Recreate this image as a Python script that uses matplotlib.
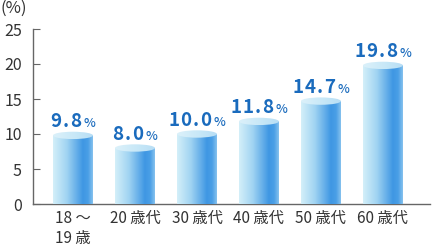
import numpy as np
import matplotlib.pyplot as plt
from matplotlib.patches import Ellipse, Rectangle
from matplotlib.colors import LinearSegmentedColormap
from matplotlib.offsetbox import TextArea, HPacker, AnnotationBbox

plt.rcParams['font.family'] = ['Noto Sans CJK JP', 'DejaVu Sans']

categories = ['18 ～\n19 歳', '20 歳代', '30 歳代', '40 歳代', '50 歳代', '60 歳代']
values = [9.8, 8.0, 10.0, 11.8, 14.7, 19.8]
labels = ['9.8', '8.0', '10.0', '11.8', '14.7', '19.8']

body_cmap = LinearSegmentedColormap.from_list(
    'body', [(0, '#d4eff9'), (0.35, '#a0d3f2'), (0.75, '#3f97e3'), (0.88, '#4a9fe6'), (1, '#86c2ee')])
top_cmap = LinearSegmentedColormap.from_list(
    'top', [(0, '#dcf1fa'), (0.6, '#c6e7f7'), (1, '#b8def5')])

fig = plt.figure(figsize=(4.34, 2.47), dpi=100)
ax = fig.add_axes([33 / 434, 1 - 204 / 247, 397 / 434, 175 / 247])

x = np.arange(len(categories))
width = 0.645
eh = 1.05  # hauteur ellipse en unites data

grad = np.linspace(0, 1, 256).reshape(1, -1)
bars = ax.bar(x, values, width=width, color='none', edgecolor='none', zorder=2)
for b, v in zip(bars, values):
    x0 = b.get_x()
    # cuerpo: rectangulo + elipse inferior
    im = ax.imshow(grad, cmap=body_cmap, aspect='auto', extent=(x0, x0 + width, -eh / 2, v),
                   zorder=2, interpolation='bilinear')
    im.set_clip_path(Rectangle((x0, 0), width, v, transform=ax.transData))
    im2 = ax.imshow(grad, cmap=body_cmap, aspect='auto', extent=(x0, x0 + width, -eh / 2, v),
                    zorder=2, interpolation='bilinear')
    im2.set_clip_path(Ellipse((x0 + width / 2, 0), width, eh, transform=ax.transData))
    # tapa
    im3 = ax.imshow(grad, cmap=top_cmap, aspect='auto',
                    extent=(x0, x0 + width, v - eh / 2, v + eh / 2), zorder=3, interpolation='bilinear')
    im3.set_clip_path(Ellipse((x0 + width / 2, v), width, eh, transform=ax.transData))

blue = '#1a6bbd'
for xi, v, lab in zip(x, values, labels):
    chars = [TextArea(c, textprops=dict(color=blue, fontsize=13.5, fontweight='bold'))
             for c in lab]
    num = HPacker(children=chars, align='baseline', pad=0, sep=0.8)
    pct = TextArea('%', textprops=dict(color=blue, fontsize=9, fontweight='medium'))
    box = HPacker(children=[num, pct], align='baseline', pad=0, sep=2)
    ab = AnnotationBbox(box, (xi, v), xybox=(0, 3), xycoords='data', boxcoords='offset points',
                        box_alignment=(0.5, 0), frameon=False, zorder=4)
    ax.add_artist(ab)

ax.set_xlim(-0.645, 5.76)
ax.set_ylim(0, 25)
ax.set_yticks([0, 5, 10, 15, 20, 25])
ax.set_xticks(x)
ax.set_xticklabels(categories, fontsize=11, color='#333333', linespacing=1.25)
ax.tick_params(axis='y', direction='in', length=5, color='#666666', labelsize=11.5,
               labelcolor='#333333', pad=8)
ax.tick_params(axis='x', length=0, pad=4)
for s in ['top', 'right']:
    ax.spines[s].set_visible(False)
for s in ['left', 'bottom']:
    ax.spines[s].set_color('#666666')
    ax.spines[s].set_linewidth(1)
ax.spines['bottom'].set_zorder(1)
ax.set_facecolor('none')

fig.text(0, 1, '(%)', fontsize=12, color='#333333', va='top', ha='left')

fig.savefig('out.png', dpi=100)
